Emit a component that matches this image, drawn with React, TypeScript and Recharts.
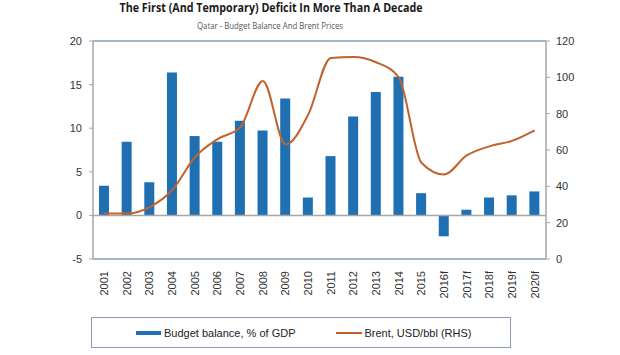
import {
  ComposedChart,
  Bar,
  Line,
  XAxis,
  YAxis,
  Legend,
  ReferenceLine,
} from 'recharts';

const categories = [
  '2001', '2002', '2003', '2004', '2005', '2006', '2007', '2008', '2009', '2010',
  '2011', '2012', '2013', '2014', '2015', '2016f', '2017f', '2018f', '2019f', '2020f',
];
// Budget balance, % of GDP (left axis)
const budgetBalance = [
  3.4, 8.45, 3.8, 16.4, 9.1, 8.45, 10.85, 9.75, 13.4, 2.05,
  6.8, 11.35, 14.15, 15.9, 2.55, -2.4, 0.65, 2.05, 2.3, 2.75,
];
// Brent, USD/bbl (right axis)
const brentPrice = [
  25, 25, 28.6, 38, 56, 66, 72.5, 98, 63, 79.5,
  110.7, 111.2, 108.3, 100, 53, 46.5, 57, 62, 65, 70.8,
];
const leftTicks = [-5, 0, 5, 10, 15, 20];
const rightTicks = [0, 20, 40, 60, 80, 100, 120];

const BAR_COLOR = '#1f6fb3';
const LINE_COLOR = '#c0622b';
const FRAME_BLUE = '#8a9bbd';
const AXIS_GRAY = '#a6a6a6';
const TEXT_COLOR = '#333';
const FONT = '"Liberation Sans", Arial, sans-serif';

const chartData = categories.map((name, i) => ({
  name,
  balance: budgetBalance[i],
  brent: brentPrice[i],
}));

// rotated year labels, reading bottom to top
const YearTick = (props: any) => {
  const { x, y, payload } = props;
  const ty = y + 12;
  return (
    <text
      x={x}
      y={ty}
      transform={`rotate(-90, ${x}, ${ty})`}
      textAnchor="end"
      dy="0.35em"
      fontSize={11}
      fontFamily={FONT}
      fill={TEXT_COLOR}
    >
      {payload.value}
    </text>
  );
};

const LegendBox = () => (
  <div
    style={{
      width: 420,
      height: 31,
      border: `1px solid ${FRAME_BLUE}`,
      display: 'flex',
      alignItems: 'center',
      fontFamily: FONT,
      fontSize: 11,
      color: '#222',
      boxSizing: 'border-box',
    }}
  >
    <span style={{ display: 'inline-block', width: 25, height: 4, background: BAR_COLOR, marginLeft: 44, marginRight: 3 }} />
    <span>Budget balance, % of GDP</span>
    <span style={{ display: 'inline-block', width: 26, height: 2, background: LINE_COLOR, marginLeft: 41, marginRight: 2 }} />
    <span>Brent, USD/bbl (RHS)</span>
  </div>
);

export default function App() {
  return (
    <div style={{ position: 'absolute', left: 0, top: 0, width: 620, height: 355, background: '#fff' }}>
      <svg width={620} height={40} style={{ position: 'absolute', left: 0, top: 0 }}>
        <text
          x={271}
          y={12}
          textAnchor="middle"
          fontFamily='"Open Sans", sans-serif'
          fontWeight="bold"
          fontSize={12.5}
          fill="#1a1a1a"
          textLength={303}
          lengthAdjust="spacingAndGlyphs"
        >
          The First (And Temporary) Deficit In More Than A Decade
        </text>
        <text
          x={270}
          y={29}
          textAnchor="middle"
          fontFamily='"Open Sans", sans-serif'
          fontSize={8.5}
          fill="#555"
          textLength={146}
          lengthAdjust="spacingAndGlyphs"
        >
          Qatar - Budget Balance And Brent Prices
        </text>
      </svg>
      <ComposedChart
        width={620}
        height={355}
        data={chartData}
        margin={{ top: 41, right: 34, bottom: 25, left: 53 }}
        barSize={10}
      >
        <XAxis
          dataKey="name"
          tick={<YearTick />}
          tickLine={false}
          tickSize={0}
          tickMargin={0}
          axisLine={{ stroke: FRAME_BLUE, strokeWidth: 1.5 }}
          interval={0}
          height={40}
        />
        <YAxis
          yAxisId="left"
          domain={[-5, 20]}
          ticks={leftTicks}
          width={40}
          tickSize={4}
          tickMargin={7}
          axisLine={{ stroke: AXIS_GRAY, strokeWidth: 1.5 }}
          tickLine={{ stroke: AXIS_GRAY }}
          tick={{ fill: TEXT_COLOR, fontSize: 11, fontFamily: FONT }}
        />
        <YAxis
          yAxisId="right"
          orientation="right"
          domain={[0, 120]}
          ticks={rightTicks}
          width={40}
          tickSize={4}
          tickMargin={6}
          axisLine={{ stroke: AXIS_GRAY, strokeWidth: 1.5 }}
          tickLine={{ stroke: AXIS_GRAY }}
          tick={{ fill: TEXT_COLOR, fontSize: 11, fontFamily: FONT, textAnchor: 'start' }}
        />
        <ReferenceLine yAxisId="left" y={20} stroke={FRAME_BLUE} strokeWidth={1.5} />
        <ReferenceLine yAxisId="left" y={0} stroke={AXIS_GRAY} strokeWidth={1.5} />
        <Bar yAxisId="left" dataKey="balance" fill={BAR_COLOR} isAnimationActive={false} />
        <Line
          yAxisId="right"
          type="monotone"
          dataKey="brent"
          stroke={LINE_COLOR}
          strokeWidth={2}
          dot={false}
          isAnimationActive={false}
        />
        <Legend
          content={<LegendBox />}
          wrapperStyle={{ position: 'absolute', left: 91, top: 317, width: 420, height: 31 }}
        />
      </ComposedChart>
    </div>
  );
}
